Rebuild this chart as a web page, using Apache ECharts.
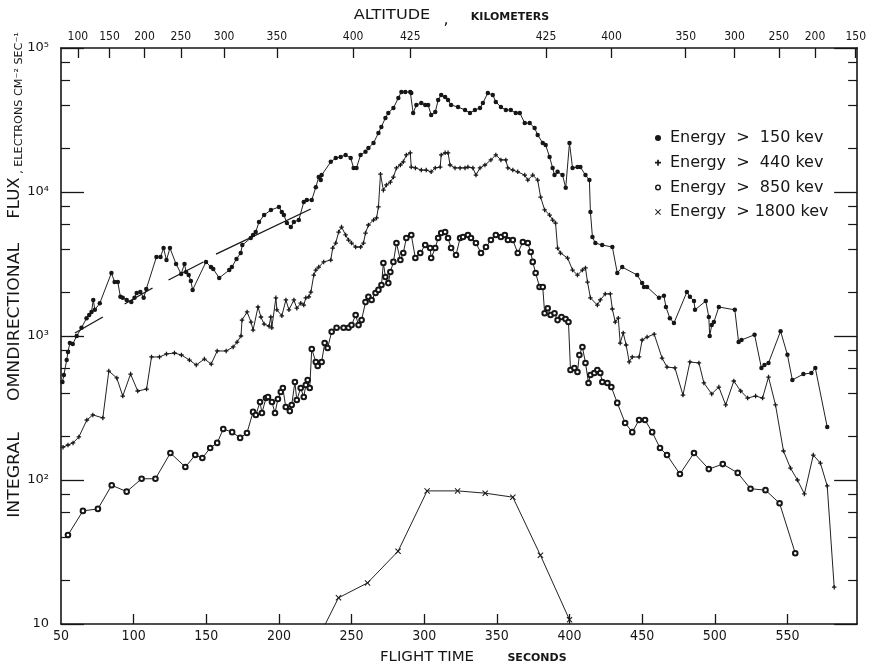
<!DOCTYPE html>
<html>
<head>
<meta charset="utf-8">
<script src="https://cdn.jsdelivr.net/npm/echarts@6/dist/echarts.min.js"></script>
<style>html,body{margin:0;padding:0;background:#fff}#c{width:869px;height:668px}</style>
</head>
<body>
<div id="c"></div>
<script>
// ---------------- data ----------------
const time150 = [51.0,52.0,53.9,54.8,56.1,58.1,60.8,64.1,67.6,69.4,71.0,72.2,73.3,76.7,84.7,86.9,89.1,90.9,92.5,95.2,98.4,100.6,102.1,104.6,106.9,108.7,115.7,118.5,120.6,122.6,125.0,129.2,132.7,135.0,136.1,137.9,139.4,140.6,149.8,153.2,154.8,158.9,165.8,167.6,170.8,173.7,174.8,180.6,182.2,184.0,186.3,189.8,194.5,200.0,202.0,203.4,205.5,208.2,210.3,213.7,217.1,219.2,222.6,225.4,227.4,228.8,229.4,235.7,239.1,242.5,245.9,249.4,251.4,253.4,256.2,259.6,261.6,265.1,268.5,270.5,273.3,275.3,278.8,282.2,284.3,287.0,290.4,291.1,292.4,294.6,298.0,300.7,302.7,304.8,307.6,309.6,311.7,314.4,316.4,318.5,323.3,328.1,331.5,334.9,338.4,340.4,343.8,347.2,349.3,352.8,356.2,359.6,363.0,365.8,369.2,372.6,376.0,378.1,381.6,383.6,386.3,388.4,389.7,391.8,395.2,397.4,400.0,402.1,405.5,407.5,411.0,413.7,414.4,415.8,417.8,422.5,429.5,432.9,436.3,446.6,450.0,451.3,453.4,461.6,465.0,466.4,469.1,471.9,480.8,482.9,485.7,486.4,493.8,495.9,496.5,497.9,499.4,502.8,513.8,516.4,518.4,527.4,532.1,534.2,537.0,545.3,550.0,553.4,561.0,566.5,569.2,577.4];
const flux150 = [480,536,681,774,894,880,1000,1140,1330,1400,1470,1780,1520,1690,2740,2370,2370,1870,1840,1780,1720,1840,1990,2020,1840,2120,3540,3540,4080,3370,4080,3160,2700,3160,2780,2650,2410,2090,3270,3010,2920,2530,2870,3010,3430,3770,4280,4790,5030,5270,6190,6920,7500,7870,7260,6920,6090,5710,6190,6390,8520,8800,8800,10800,12700,12100,13100,16200,17200,17500,18100,17200,14700,14700,18100,19000,20200,21900,25700,28300,32700,35400,38300,45000,49500,49500,49500,48700,35400,40200,41500,40200,40200,34300,35900,43500,47200,45700,43500,40200,38900,37100,35400,37100,38300,41500,48700,47200,42200,38900,37100,37100,35400,35400,30100,30100,27800,24900,21900,21200,17500,14700,13100,13800,13100,10700,21900,14700,14900,14900,13100,12100,7260,4870,4420,4280,4150,2740,3010,2650,2330,2190,2190,1840,1900,1590,1330,1230,2020,1870,1750,1520,1750,1355,1000,1190,1250,1590,1520,908,938,1020,600,630,650,1080,740,495,544,553,600,233];

const time440 = [51.4,54.8,58.3,62.3,67.8,71.9,78.8,82.9,88.4,92.5,97.9,102.8,108.9,112.3,117.8,122.6,128.1,132.9,138.4,143.1,148.7,153.4,157.5,163.7,168.5,171.2,173.9,174.6,178.1,180.8,182.2,185.6,187.6,189.8,193.2,194.4,195.1,197.9,198.6,202.0,204.8,206.9,210.3,212.3,215.0,217.1,218.5,220.6,222.0,224.0,225.4,227.4,230.8,235.7,237.0,239.1,241.1,243.1,245.9,247.9,250.0,252.8,256.2,258.2,259.6,261.6,265.1,267.2,268.5,269.9,271.9,274.0,276.7,278.8,280.9,283.6,285.6,287.7,290.4,291.1,293.9,298.0,301.4,304.8,307.6,311.0,311.7,314.4,316.4,317.8,321.2,324.7,328.1,330.1,333.5,335.6,338.4,341.8,345.9,349.3,352.8,356.2,357.6,361.0,364.4,369.2,371.3,374.7,378.1,380.1,382.9,386.3,388.4,390.4,391.8,393.8,398.7,402.1,405.5,408.9,411.0,412.4,414.4,419.2,421.2,424.6,428.1,429.5,431.5,433.6,434.9,437.0,439.0,441.1,443.2,447.9,450.0,453.4,458.3,463.7,467.1,472.6,478.1,482.9,489.1,492.5,497.9,502.8,507.5,513.1,517.8,522.6,528.1,532.9,537.0,541.8,547.3,552.1,556.9,561.7,567.8,572.7,577.4,582.2];
const flux440 = [169,175,181,199,261,283,270,571,511,383,544,415,428,715,715,750,762,738,681,629,692,639,787,787,839,908,1000,1290,1470,1250,1100,1590,1355,1210,1170,1355,1140,1840,1520,1380,1780,1520,1780,1560,1690,1640,1840,1870,2020,2650,2870,3010,3270,3370,4080,4420,5270,5710,5030,4640,4420,4150,4150,4420,5190,5900,6390,6600,7870,13300,10300,11200,11700,12700,14700,15400,16200,18100,18700,14900,14700,14200,14200,13800,14700,14900,18100,18700,18700,15400,14700,14700,14700,14900,14700,13100,14700,15400,16700,18100,16700,16700,14700,14200,13800,13100,12100,13100,12100,9230,7500,6920,6390,6090,4080,3770,3480,2870,2650,2870,2970,2370,1840,1640,1780,1960,1960,1540,1250,1330,894,1050,866,660,715,715,938,984,1030,703,609,600,389,660,650,472,396,442,332,487,415,371,383,371,519,332,159,121,100,80,149,131,91,18];

const time850 = [54.8,65.1,75.4,84.9,95.2,105.5,115.0,125.3,135.6,142.4,147.3,152.7,157.5,161.7,167.8,173.3,178.0,182.2,184.1,187.0,188.3,191.1,192.5,195.2,197.3,199.3,201.3,202.7,204.7,207.5,208.8,211.0,212.3,215.0,217.1,218.5,219.8,221.2,222.6,225.4,226.7,229.4,231.5,233.5,236.3,239.7,244.5,247.9,250.0,252.8,254.8,256.9,259.6,261.6,263.8,266.5,268.5,270.6,271.9,273.3,275.3,276.7,278.8,280.9,283.6,285.6,287.7,291.1,293.9,297.3,300.7,304.1,304.8,307.6,309.6,311.7,314.4,316.4,318.5,321.9,324.7,326.7,330.1,332.2,335.6,339.1,342.5,345.9,349.3,352.8,355.5,357.6,361.0,364.4,367.9,371.3,373.3,374.7,376.7,379.4,381.6,382.9,385.0,387.0,389.7,391.8,394.5,397.3,399.3,400.7,403.4,405.5,406.8,408.9,411.0,413.1,414.4,417.1,419.2,421.2,422.6,426.1,428.8,432.9,438.3,443.2,447.9,452.0,456.9,462.3,467.1,476.0,485.7,495.9,505.5,515.8,524.6,534.9,544.6,555.4];
const flux850 = [41.5,61,63,92,83,102,102,154,123,149,142,167,181,226,215,196,212,297,283,348,292,371,377,348,292,365,408,435,321,301,332,479,359,435,377,457,495,435,812,660,619,660,894,825,1070,1140,1140,1140,1190,1400,1190,1290,1720,1870,1780,1990,2090,2260,3210,2570,2330,2780,3270,4420,3370,3770,4790,5030,3480,3770,4280,4080,3480,4080,4790,5190,5270,4790,4080,3650,4790,4870,5030,4790,4420,3770,4150,4640,5030,4870,5030,4640,4640,3770,4500,4420,3830,3270,2740,2190,2190,1440,1560,1400,1440,1290,1355,1310,1250,581,600,562,738,839,650,472,536,553,581,553,479,472,442,343,249,215,261,261,215,167,149,110,154,119,129,112,87,85,69,31];

const time1800 = [222,241,261,282,302,323,342,361,380,400];
const flux1800 = [6.3,15.2,19.3,32,84,84,81,76,30,10.7];

// straight lines drawn over the >150 kev curve (start / end points)
const fitSegments = [
  [[59.6,1050],[78.8,1355]],
  [[93.8,1668],[113.0,2154]],
  [[124.0,2450],[148.0,3265]],
  [[156.7,3706],[221.9,7620]]
];

// axes
const xTickValues = [100,150,200,250,300,350,400,450,500,550];
const xLabelValues = [50,100,150,200,250,300,350,400,450,500,550];
const altTimes  = [61.6,83.4,107.5,132.5,162.3,198.6,251.1,290.4,383.8,428.9,480.0,513.6,544.1,569.0,597.0];
const altLabels = ['100','150','200','250','300','350','400','425','425','400','350','300','250','200','150'];
const yTickValues = [10,100,1000,10000,100000];
const yTickLabels = ['10','10²','10³','10⁴','10⁵'];
const yMinorMantissas = [2,4,6,8];

const seriesNames = ['Energy  >  150 kev','Energy  >  440 kev','Energy  >  850 kev','Energy  > 1800 kev'];

// ---------------- chart ----------------
const FONT = 'DejaVu Sans';
const INK = '#161616';
const zip = (t, v) => t.map((x, i) => [x, v[i]]);
const minorTicks = [];
for (let k = 1; k <= 4; k++) yMinorMantissas.forEach(m => minorTicks.push(k + Math.log10(m)));

const PLUS = 'path://M1.8,0 H3.2 V1.8 H5 V3.2 H3.2 V5 H1.8 V3.2 H0 V1.8 H1.8 Z';
const CROSS = 'path://M0,0.6 L0.6,0 L2.5,1.9 L4.4,0 L5,0.6 L3.1,2.5 L5,4.4 L4.4,5 L2.5,3.1 L0.6,5 L0,4.4 L1.9,2.5 Z';
const RING = 'path://M5,2.5 A2.5,2.5 0 1,1 0,2.5 A2.5,2.5 0 1,1 5,2.5 Z M3.8,2.5 A1.3,1.3 0 1,0 1.2,2.5 A1.3,1.3 0 1,0 3.8,2.5 Z';

const axisLine = { show: true, onZero: false, lineStyle: { color: INK, width: 1.6 } };

function yAxisPair(pos) {
  return [
    { type: 'log', logBase: 10, min: 10, max: 100000, position: pos,
      axisLine: axisLine,
      axisTick: { show: true, inside: true, length: 23, lineStyle: { color: INK, width: 1.3 } },
      axisLabel: pos === 'left' ? {
        show: true, margin: 12, fontSize: 13, fontFamily: FONT, color: INK,
        showMinLabel: true, showMaxLabel: true,
        formatter: v => { const i = yTickValues.findIndex(x => Math.abs(x - v) / x < 1e-6); return i >= 0 ? yTickLabels[i] : ''; }
      } : { show: false },
      splitLine: { show: false } },
    { type: 'value', min: 1, max: 5, position: pos,
      axisLine: { show: false, onZero: false },
      axisTick: { show: true, inside: true, length: 9, customValues: minorTicks, lineStyle: { color: INK, width: 1.2 } },
      axisLabel: { show: false }, splitLine: { show: false } }
  ];
}

const series = [
  { name: seriesNames[0], type: 'line', data: zip(time150, flux150), symbol: 'circle', symbolSize: 4.5,
    itemStyle: { color: INK }, lineStyle: { color: '#222', width: 1 } },
  { name: seriesNames[1], type: 'line', data: zip(time440, flux440), symbol: PLUS, symbolSize: 4.5,
    itemStyle: { color: INK }, lineStyle: { color: '#222', width: 1 } },
  { name: seriesNames[2], type: 'line', data: zip(time850, flux850), symbol: 'emptyCircle', symbolSize: 4.6,
    itemStyle: { color: INK, borderWidth: 1 }, lineStyle: { color: '#222', width: 1 } },
  { name: seriesNames[3], type: 'line', data: zip(time1800, flux1800), symbol: CROSS, symbolSize: 6,
    itemStyle: { color: INK }, lineStyle: { color: '#222', width: 1 } }
];
fitSegments.forEach((seg, i) => series.push({
  name: 'fit' + i, type: 'line', data: seg, symbol: 'none', silent: true,
  lineStyle: { color: INK, width: 1.3 }
}));
series.forEach(s => { s.xAxisIndex = 0; s.yAxisIndex = 0; s.clip = true; s.animation = false; });

const textStyleBase = { fontFamily: FONT, fill: INK };
const graphic = [
  { type: 'text', x: 15, y: 475, rotation: Math.PI / 2, scaleX: 1.15,
    style: Object.assign({ text: 'INTEGRAL', fontSize: 15, textAlign: 'center', textVerticalAlign: 'middle' }, textStyleBase) },
  { type: 'text', x: 15, y: 322, rotation: Math.PI / 2, scaleX: 1.15,
    style: Object.assign({ text: 'OMNDIRECTIONAL', fontSize: 15, textAlign: 'center', textVerticalAlign: 'middle' }, textStyleBase) },
  { type: 'text', x: 15, y: 198, rotation: Math.PI / 2, scaleX: 1.1,
    style: Object.assign({ text: 'FLUX', fontSize: 15, textAlign: 'center', textVerticalAlign: 'middle' }, textStyleBase) },
  { type: 'text', x: 19, y: 103, rotation: Math.PI / 2, scaleX: 1.12,
    style: Object.assign({ text: ', ELECTRONS CM⁻² SEC⁻¹', fontSize: 10, textAlign: 'center', textVerticalAlign: 'middle' }, textStyleBase) },
  { type: 'text', x: 392, y: 15, scaleX: 1.15,
    style: Object.assign({ text: 'ALTITUDE', fontSize: 14, textAlign: 'center', textVerticalAlign: 'middle' }, textStyleBase) },
  { type: 'text', x: 446, y: 20,
    style: Object.assign({ text: ',', fontSize: 16, textAlign: 'center', textVerticalAlign: 'middle' }, textStyleBase) },
  { type: 'text', x: 510, y: 17,
    style: Object.assign({ text: 'KILOMETERS', fontSize: 11, fontWeight: 'bold', textAlign: 'center', textVerticalAlign: 'middle' }, textStyleBase) },
  { type: 'text', x: 427, y: 657, scaleX: 1.07,
    style: Object.assign({ text: 'FLIGHT TIME', fontSize: 14, textAlign: 'center', textVerticalAlign: 'middle' }, textStyleBase) },
  { type: 'text', x: 537, y: 658,
    style: Object.assign({ text: 'SECONDS', fontSize: 11, fontWeight: 'bold', textAlign: 'center', textVerticalAlign: 'middle' }, textStyleBase) }
];

const option = {
  animation: false,
  backgroundColor: '#ffffff',
  textStyle: { fontFamily: FONT },
  grid: { left: 61, right: 7, top: 48, bottom: 44, containLabel: false },
  legend: {
    orient: 'vertical', left: 650, top: 125, itemWidth: 6, itemHeight: 6, itemGap: 8.7,
    textStyle: { fontSize: 16, fontFamily: FONT, color: INK, padding: [0, 0, 0, 4] },
    data: [
      { name: seriesNames[0], icon: 'circle', itemStyle: { color: INK } },
      { name: seriesNames[1], icon: PLUS, itemStyle: { color: INK } },
      { name: seriesNames[2], icon: RING, itemStyle: { color: INK, borderWidth: 0 } },
      { name: seriesNames[3], icon: CROSS, itemStyle: { color: INK } }
    ],
    selectedMode: false
  },
  xAxis: [
    { type: 'value', position: 'bottom', min: 50, max: 598,
      axisLine: axisLine,
      axisTick: { show: true, inside: true, length: 10, customValues: xTickValues, lineStyle: { color: INK, width: 1.3 } },
      axisLabel: { show: true, customValues: xLabelValues, margin: 5, fontSize: 14, fontFamily: 'DejaVu Sans Condensed', color: INK },
      splitLine: { show: false } },
    { type: 'value', position: 'top', min: 50, max: 598,
      axisLine: axisLine,
      axisTick: { show: true, inside: true, length: 10, customValues: altTimes, lineStyle: { color: INK, width: 1.3 } },
      axisLabel: { show: true, customValues: altTimes, margin: 5, fontSize: 12, fontFamily: 'DejaVu Sans Condensed', color: INK,
        formatter: v => { let b = 0; altTimes.forEach((t, i) => { if (Math.abs(t - v) < Math.abs(altTimes[b] - v)) b = i; }); return altLabels[b]; } },
      splitLine: { show: false } }
  ],
  yAxis: [].concat(yAxisPair('left'), yAxisPair('right')),
  series: series,
  graphic: graphic
};

const chart = echarts.init(document.getElementById('c'), null, { renderer: 'canvas' });
chart.setOption(option);
</script>
</body>
</html>
